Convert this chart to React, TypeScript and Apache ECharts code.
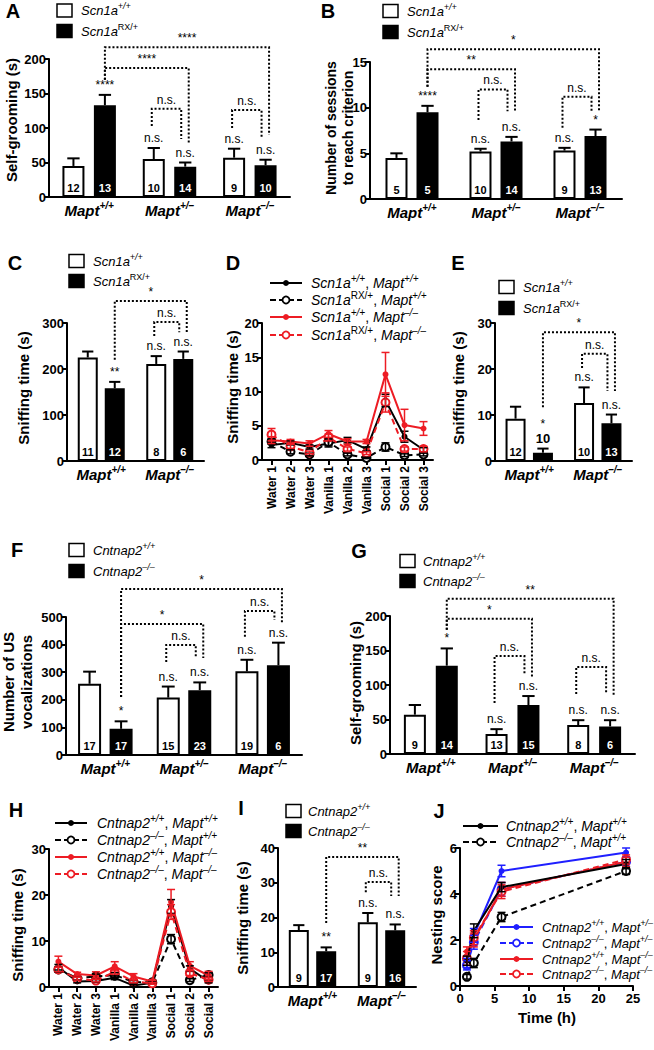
import React, { useEffect, useRef } from "react";
import * as echarts from "echarts";

const FONT = "'Liberation Sans', Arial, Helvetica, sans-serif";
const RED = "#ed1c24";
const BLUE = "#1f1fff";

// ---------------- categories ----------------
const MAPT3 = ["+/+", "+/–", "–/–"];
const MAPT2 = ["+/+", "–/–"];
const TRIALS = ["Water 1", "Water 2", "Water 3", "Vanilla 1", "Vanilla 2", "Vanilla 3", "Social 1", "Social 2", "Social 3"];
const J_TIMES = [1, 2, 6, 24];

// ---------------- A: self-grooming, Scn1a ----------------
const A_WT = [45, 55, 57];
const A_WT_ERR = [11, 16, 13];
const A_MUT = [133, 44, 46];
const A_MUT_ERR = [15, 6, 8];
const A_N_WT = [12, 10, 9];
const A_N_MUT = [13, 14, 10];
const A_SIG_WT = ["", "n.s.", "n.s."];
const A_SIG_MUT = ["****", "n.s.", "n.s."];
const A_BRACKETS = [
  { a: [0, 1], b: [2, 1], yA: 170, yTop: 217, yB: 90, label: "****" },
  { a: [0, 1], b: [1, 1], yA: 170, yTop: 187, yB: 78, label: "****" },
  { a: [1, 0], b: [1, 1], yA: 103, yTop: 128, yB: 84, label: "n.s." },
  { a: [2, 0], b: [2, 1], yA: 100, yTop: 126, yB: 87, label: "n.s." },
];

// ---------------- B: sessions to criterion ----------------
const B_WT = [4.5, 5.2, 5.3];
const B_WT_ERR = [0.5, 0.3, 0.3];
const B_MUT = [9.5, 6.3, 6.9];
const B_MUT_ERR = [0.7, 0.5, 0.7];
const B_N_WT = [5, 10, 9];
const B_N_MUT = [5, 14, 13];
const B_SIG_WT = ["", "n.s.", "n.s."];
const B_SIG_MUT = ["****", "n.s.", "*"];
const B_BRACKETS = [
  { a: [0, 1], b: [2, 1], yA: 12.3, yTop: 16.4, yB: 9.5, label: "*" },
  { a: [0, 1], b: [1, 1], yA: 12.3, yTop: 14.2, yB: 9.5, label: "**" },
  { a: [1, 0], b: [1, 1], yA: 8.65, yTop: 12.0, yB: 9.6, label: "n.s." },
  { a: [2, 0], b: [2, 1], yA: 7.8, yTop: 11.2, yB: 9.6, label: "n.s." },
];

// ---------------- C: sniffing time ----------------
const C_WT = [225, 211];
const C_WT_ERR = [13, 17];
const C_MUT = [158, 222];
const C_MUT_ERR = [14, 16];
const C_N_WT = [11, 8];
const C_N_MUT = [12, 6];
const C_SIG_WT = ["", "n.s."];
const C_SIG_MUT = ["**", "n.s."];
const C_BRACKETS = [
  { a: [0, 1], b: [1, 1], yA: 220, yTop: 348, yB: 280, label: "*" },
  { a: [1, 0], b: [1, 1], yA: 272, yTop: 302, yB: 280, label: "n.s." },
];

// ---------------- D: olfactory habituation, Scn1a ----------------
const D_WT_WT = [2.2, 2.5, 1.9, 2.4, 2.9, 1.6, 8.7, 3.4, 1.5];
const D_WT_WT_ERR = [0.4, 0.3, 0.3, 0.5, 0.4, 0.3, 0.9, 0.8, 0.3];
const D_RX_WT = [2.7, 1.2, 0.8, 2.6, 0.8, 0.3, 1.9, 0.7, 0.8];
const D_RX_WT_ERR = [0.4, 0.3, 0.2, 0.5, 0.2, 0.1, 0.6, 0.2, 0.2];
const D_WT_KO = [2.9, 2.7, 2.4, 3.8, 2.7, 2.7, 12.5, 5.1, 4.6];
const D_WT_KO_ERR = [0.5, 0.3, 0.4, 0.5, 0.4, 0.3, 3.2, 2.3, 1.0];
const D_RX_KO = [3.7, 2.0, 1.1, 3.3, 1.6, 1.0, 8.4, 1.6, 1.6];
const D_RX_KO_ERR = [0.9, 0.3, 0.2, 0.5, 0.3, 0.2, 1.4, 0.3, 0.4];

// ---------------- E: social sniffing ----------------
const E_WT = [9.2, 12.6];
const E_WT_ERR = [2.6, 3.4];
const E_MUT = [1.8, 8.2];
const E_MUT_ERR = [0.9, 1.9];
const E_N_WT = [12, 10];
const E_N_MUT = [10, 13];
const E_SIG_WT = ["", "n.s."];
const E_SIG_MUT = ["*", "n.s."];
const E_BRACKETS = [
  { a: [0, 1], b: [1, 1], yA: 11.7, yTop: 28, yB: 15.2, label: "*" },
  { a: [1, 0], b: [1, 1], yA: 20.2, yTop: 23.3, yB: 15.2, label: "n.s." },
];

// ---------------- F: US vocalizations, Cntnap2 ----------------
const F_WT = [258, 208, 303];
const F_WT_ERR = [44, 40, 42];
const F_MUT = [95, 235, 325];
const F_MUT_ERR = [27, 28, 82];
const F_N_WT = [17, 15, 19];
const F_N_MUT = [17, 23, 6];
const F_SIG_WT = ["", "n.s.", "n.s."];
const F_SIG_MUT = ["*", "n.s.", "n.s."];
const F_BRACKETS = [
  { a: [0, 1], b: [2, 1], yA: 210, yTop: 601, yB: 478, label: "*" },
  { a: [0, 1], b: [1, 1], yA: 210, yTop: 475, yB: 351, label: "*" },
  { a: [1, 0], b: [1, 1], yA: 337, yTop: 399, yB: 351, label: "n.s." },
  { a: [2, 0], b: [2, 1], yA: 428, yTop: 522, yB: 489, label: "n.s." },
];

// ---------------- G: self-grooming, Cntnap2 ----------------
const G_WT = [57, 29, 42];
const G_WT_ERR = [14, 7, 7];
const G_MUT = [128, 71, 40];
const G_MUT_ERR = [25, 13, 9];
const G_N_WT = [9, 13, 8];
const G_N_MUT = [14, 15, 6];
const G_SIG_WT = ["", "n.s.", "n.s."];
const G_SIG_MUT = ["*", "n.s.", "n.s."];
const G_BRACKETS = [
  { a: [0, 1], b: [2, 1], yA: 180, yTop: 225, yB: 84, label: "**" },
  { a: [0, 1], b: [1, 1], yA: 180, yTop: 196, yB: 110, label: "*" },
  { a: [1, 0], b: [1, 1], yA: 74, yTop: 142, yB: 117, label: "n.s." },
  { a: [2, 0], b: [2, 1], yA: 87, yTop: 126, yB: 88, label: "n.s." },
];

// ---------------- H: olfactory habituation, Cntnap2 ----------------
const H_WT_WT = [4.3, 1.2, 1.3, 2.0, 0.3, 0.9, 17.5, 4.0, 1.2];
const H_WT_WT_ERR = [0.6, 0.3, 0.3, 0.4, 0.2, 0.2, 1.5, 0.6, 0.3];
const H_KO_WT = [3.8, 1.9, 2.3, 2.6, 1.1, 1.0, 10.4, 1.5, 2.6];
const H_KO_WT_ERR = [0.6, 0.4, 0.5, 0.5, 0.3, 0.2, 1.0, 0.3, 0.5];
const H_WT_KO = [5.5, 2.8, 2.5, 4.5, 2.3, 1.2, 18.5, 4.6, 2.5];
const H_WT_KO_ERR = [1.2, 0.4, 0.8, 1.0, 0.6, 0.3, 2.7, 0.9, 0.9];
const H_KO_KO = [3.8, 1.8, 1.4, 3.3, 1.2, 0.8, 16.3, 3.0, 1.6];
const H_KO_KO_ERR = [0.5, 0.3, 0.3, 0.5, 0.3, 0.2, 1.6, 0.5, 0.4];

// ---------------- I: social sniffing, Cntnap2 ----------------
const I_WT = [16.4, 18.6];
const I_WT_ERR = [1.4, 2.7];
const I_MUT = [10.3, 16.3];
const I_MUT_ERR = [1.1, 1.7];
const I_N_WT = [9, 9];
const I_N_MUT = [17, 16];
const I_SIG_WT = ["", "n.s."];
const I_SIG_MUT = ["**", "n.s."];
const I_BRACKETS = [
  { a: [0, 1], b: [1, 1], yA: 18.4, yTop: 37.4, yB: 26.2, label: "**" },
  { a: [1, 0], b: [1, 1], yA: 27.3, yTop: 30.2, yB: 26.2, label: "n.s." },
];

// ---------------- J: nesting score ----------------
const J_WT_WT = [1.1, 2.4, 4.3, 5.3];
const J_WT_WT_ERR = [0.2, 0.3, 0.2, 0.2];
const J_KO_WT = [0.4, 1.0, 3.0, 5.0];
const J_KO_WT_ERR = [0.1, 0.2, 0.2, 0.15];
const J_WT_HET = [1.0, 2.2, 5.0, 5.8];
const J_WT_HET_ERR = [0.2, 0.3, 0.25, 0.2];
const J_KO_HET = [0.9, 1.9, 4.2, 5.4];
const J_KO_HET_ERR = [0.2, 0.3, 0.3, 0.2];
const J_WT_KO = [1.5, 2.0, 4.2, 5.4];
const J_WT_KO_ERR = [0.2, 0.3, 0.3, 0.2];
const J_KO_KO = [1.2, 2.1, 4.1, 5.5];
const J_KO_KO_ERR = [0.3, 0.3, 0.3, 0.2];

// ---------------- text helpers ----------------
const tok = (size: number, italic: boolean, sup: boolean, bold = false) => ({
  fontFamily: FONT,
  fontSize: size,
  fontStyle: italic ? "italic" : "normal",
  fontWeight: bold ? "bold" : "normal",
  fill: "#000",
  color: "#000",
  lineHeight: sup ? size : size + 5,
  verticalAlign: sup ? "top" : "middle",
});
const richSet = (size: number) => ({
  i: tok(size, true, false),
  s: tok(Math.round(size * 0.7), true, true),
  u: tok(Math.round(size * 0.7), false, true),
  n: tok(size, false, false),
});
const MAPT_RICH = { m: tok(15, true, false, true), t: tok(10, true, true, true) };

const SCN_WT = "{i|Scn1a}{s|+/+}";
const SCN_RX = "{i|Scn1a}{u|RX/+}";
const CNT_WT = "{i|Cntnap2}{s|+/+}";
const CNT_KO = "{i|Cntnap2}{s|–/–}";
const mapt = (g: string) => `{i|Mapt}{s|${g}}`;

function gText(x: number, y: number, text: string, style: any = {}, extra: any = {}) {
  return {
    type: "text",
    x,
    y,
    silent: true,
    z: 100,
    ...extra,
    style: { text, fontFamily: FONT, fontSize: 13, fill: "#000", align: "left", verticalAlign: "middle", ...style },
  };
}

function valueAxis(gi: number, max: number, interval: number, extra: any = {}) {
  return {
    type: "value",
    gridIndex: gi,
    min: 0,
    max,
    interval,
    axisLine: { show: true, onZero: false, lineStyle: { color: "#000", width: 2 } },
    axisTick: { show: true, inside: false, length: 5, lineStyle: { color: "#000", width: 2 } },
    axisLabel: { show: true, color: "#000", fontFamily: FONT, fontSize: 13, fontWeight: "bold", margin: 3 },
    splitLine: { show: false },
    ...extra,
  };
}

function cText(x: number, y: number, text: string, size: number, color = "#000", bold = false) {
  return {
    type: "text",
    x,
    y,
    style: {
      text,
      fontFamily: FONT,
      fontSize: size,
      fontWeight: bold ? "bold" : "normal",
      fill: color,
      align: "center",
      verticalAlign: "middle",
    },
  };
}

function addBarPanel(o: any, p: any) {
  const gi = o.grid.length;
  const [l, t, w, h] = p.rect;
  o.grid.push({ left: l, top: t, width: w, height: h });
  o.xAxis.push({
    type: "category",
    gridIndex: gi,
    data: p.cats,
    boundaryGap: true,
    axisLine: { show: true, onZero: false, lineStyle: { color: "#000", width: 2 } },
    axisTick: { show: false },
    splitLine: { show: false },
    axisLabel: {
      show: true,
      interval: 0,
      margin: 3,
      color: "#000",
      formatter: (v: string) => `{m|Mapt}{t|${v}}`,
      rich: MAPT_RICH,
    },
  });
  o.yAxis.push(valueAxis(gi, p.max, p.interval));
  const off = (p.bw * (1 + p.gap)) / 2;
  const barOff = (b: number) => (b === 0 ? -off : off);
  const common = {
    type: "bar",
    xAxisIndex: gi,
    yAxisIndex: gi,
    barWidth: p.bw,
    barGap: `${p.gap * 100}%`,
    silent: true,
    z: 2,
  };
  o.series.push({ ...common, name: `${p.id}-wt`, data: p.wt, itemStyle: { color: "#fff", borderColor: "#000", borderWidth: 2 } });
  o.series.push({ ...common, name: `${p.id}-mut`, data: p.mut, itemStyle: { color: "#000", borderColor: "#000", borderWidth: 2 } });

  const rows: number[][] = [];
  p.wt.forEach((v: number, i: number) => rows.push([i, v, p.wtErr[i], p.nWt[i], 0]));
  p.mut.forEach((v: number, i: number) => rows.push([i, v, p.mutErr[i], p.nMut[i], 1]));
  o.series.push({
    type: "custom",
    name: `${p.id}-err`,
    xAxisIndex: gi,
    yAxisIndex: gi,
    clip: false,
    silent: true,
    z: 4,
    encode: { x: 0, y: 1 },
    data: rows,
    renderItem: (_params: any, api: any) => {
      const i = api.value(0) as number;
      const v = api.value(1) as number;
      const e = api.value(2) as number;
      const n = api.value(3);
      const b = api.value(4) as number;
      const top = api.coord([i, v]);
      const et = api.coord([i, v + e]);
      const base = api.coord([i, 0]);
      const x = top[0] + barOff(b);
      const cap = p.bw * 0.28;
      const children: any[] = [
        { type: "line", shape: { x1: x, y1: top[1], x2: x, y2: et[1] }, style: { stroke: "#000", lineWidth: 2 } },
        { type: "line", shape: { x1: x - cap, y1: et[1], x2: x + cap, y2: et[1] }, style: { stroke: "#000", lineWidth: 2 } },
      ];
      let sigY = et[1] - 10;
      if (base[1] - top[1] > 16) {
        children.push(cText(x, base[1] - 9.5, String(n), 11, b === 0 ? "#000" : "#fff", true));
      } else {
        children.push(cText(x, et[1] - 10, String(n), 13, "#000", true));
        sigY = et[1] - 25;
      }
      const sig = (b === 0 ? p.sigWt : p.sigMut)[i];
      if (sig) children.push(cText(x, sigY, sig, 12));
      return { type: "group", children };
    },
  });

  o.series.push({
    type: "custom",
    name: `${p.id}-brackets`,
    xAxisIndex: gi,
    yAxisIndex: gi,
    clip: false,
    silent: true,
    z: 5,
    encode: { x: 0, y: 1 },
    data: p.brackets.map((_b: any, k: number) => [0, 0, k]),
    renderItem: (_params: any, api: any) => {
      const br = p.brackets[api.value(2) as number];
      const inner = br.a[0] === br.b[0];
      const xa = api.coord([br.a[0], 0])[0] + barOff(br.a[1]) + (inner ? -2 : 0);
      const xb = api.coord([br.b[0], 0])[0] + barOff(br.b[1]) + (inner ? -4 : 3.5);
      const ya = api.coord([br.a[0], br.yA])[1];
      const yt = api.coord([br.a[0], br.yTop])[1];
      const yb = api.coord([br.b[0], br.yB])[1];
      return {
        type: "group",
        children: [
          {
            type: "polyline",
            shape: { points: [[xa, ya], [xa, yt], [xb, yt], [xb, yb]] },
            style: { stroke: "#000", lineWidth: 2, lineDash: [2, 2], fill: null },
          },
          cText((xa + xb) / 2, yt - 9, br.label, 12),
        ],
      };
    },
  });
}

function errSeries(gi: number, data: number[][], color: string, cap: number) {
  return {
    type: "custom",
    xAxisIndex: gi,
    yAxisIndex: gi,
    clip: false,
    silent: true,
    z: 4,
    encode: { x: 0, y: 1 },
    data,
    renderItem: (_params: any, api: any) => {
      const x = api.value(0) as number;
      const v = api.value(1) as number;
      const e = api.value(2) as number;
      const lo = api.coord([x, v - e]);
      const hi = api.coord([x, v + e]);
      const st = { stroke: color, lineWidth: 1.5 };
      return {
        type: "group",
        children: [
          { type: "line", shape: { x1: lo[0], y1: lo[1], x2: hi[0], y2: hi[1] }, style: st },
          { type: "line", shape: { x1: hi[0] - cap, y1: hi[1], x2: hi[0] + cap, y2: hi[1] }, style: st },
          { type: "line", shape: { x1: lo[0] - cap, y1: lo[1], x2: lo[0] + cap, y2: lo[1] }, style: st },
        ],
      };
    },
  };
}

function lineSeries(gi: number, data: any[], color: string, dashed: boolean, z: number) {
  return {
    type: "line",
    xAxisIndex: gi,
    yAxisIndex: gi,
    data,
    silent: true,
    z,
    symbol: dashed ? "emptyCircle" : "circle",
    symbolSize: dashed ? 8 : 6,
    showSymbol: true,
    lineStyle: { color, width: 2, type: dashed ? [6, 4] : "solid" },
    itemStyle: { color, borderColor: color, borderWidth: dashed ? 2 : 0 },
  };
}

function addTrialPanel(o: any, p: any) {
  const gi = o.grid.length;
  const [l, t, w, h] = p.rect;
  o.grid.push({ left: l, top: t, width: w, height: h });
  o.xAxis.push({
    type: "category",
    gridIndex: gi,
    data: TRIALS,
    boundaryGap: true,
    axisLine: { show: true, onZero: false, lineStyle: { color: "#000", width: 2 } },
    axisTick: { show: true, alignWithLabel: true, length: 5, lineStyle: { color: "#000", width: 2 } },
    splitLine: { show: false },
    axisLabel: { show: true, interval: 0, rotate: 90, margin: 6, color: "#000", fontFamily: FONT, fontSize: 12, fontWeight: "bold" },
  });
  o.yAxis.push(valueAxis(gi, p.max, p.interval));
  p.lines.forEach((s: any, k: number) => {
    o.series.push(lineSeries(gi, s.vals, s.color, s.dashed, 3 + k * 0.01));
    o.series.push(errSeries(gi, s.vals.map((v: number, i: number) => [i, v, s.err[i]]), s.color, 4));
  });
}

function addTimePanel(o: any, p: any) {
  const gi = o.grid.length;
  const [l, t, w, h] = p.rect;
  o.grid.push({ left: l, top: t, width: w, height: h });
  o.xAxis.push({
    type: "value",
    gridIndex: gi,
    min: 0,
    max: 25,
    interval: 5,
    axisLine: { show: true, onZero: false, lineStyle: { color: "#000", width: 2 } },
    axisTick: { show: true, length: 5, lineStyle: { color: "#000", width: 2 } },
    splitLine: { show: false },
    axisLabel: { show: true, color: "#000", fontFamily: FONT, fontSize: 13, fontWeight: "bold", margin: 6 },
  });
  o.yAxis.push(valueAxis(gi, 6, 2));
  p.lines.forEach((s: any, k: number) => {
    const pts = J_TIMES.map((tm, i) => [tm, s.vals[i]]);
    o.series.push(lineSeries(gi, pts, s.color, s.dashed, 3 + k * 0.01));
    o.series.push(errSeries(gi, J_TIMES.map((tm, i) => [tm, s.vals[i], s.err[i]]), s.color, 4));
  });
}

// ---------------- legends & labels (graphic) ----------------
function boxLegend(g: any[], x: number, ys: number[], labels: string[], tx: number) {
  ys.forEach((y, k) => {
    g.push({
      type: "rect",
      silent: true,
      z: 100,
      shape: { x, y: y - 6.5, width: 15, height: 13 },
      style: { fill: k === 0 ? "#fff" : "#000", stroke: "#000", lineWidth: 1.5 },
    });
    g.push(gText(tx, y, labels[k], { rich: richSet(13) }));
  });
}

function lineLegend(g: any[], x1: number, x2: number, tx: number, ys: number[], items: any[], size: number) {
  ys.forEach((y, k) => {
    const it = items[k];
    g.push({
      type: "line",
      silent: true,
      z: 100,
      shape: { x1, y1: y, x2, y2: y },
      style: { stroke: it.color, lineWidth: 2, lineDash: it.dashed ? [6, 3] : null },
    });
    g.push({
      type: "circle",
      silent: true,
      z: 101,
      shape: { cx: (x1 + x2) / 2, cy: y, r: it.dashed ? 3.5 : 3 },
      style: it.dashed ? { fill: "#fff", stroke: it.color, lineWidth: 1.8 } : { fill: it.color, stroke: it.color, lineWidth: 0 },
    });
    g.push(gText(tx, y, it.label, { rich: richSet(size) }));
  });
}

function yName(g: any[], x: number, y: number, text: string, size = 15) {
  g.push(
    gText(x, y, text, { fontSize: size, fontWeight: "bold", align: "center", verticalAlign: "middle", lineHeight: size + 3 }, { rotation: Math.PI / 2 })
  );
}

function letter(g: any[], x: number, y: number, text: string) {
  g.push(gText(x, y, text, { fontSize: 20, fontWeight: "bold", align: "center", verticalAlign: "middle" }));
}

function buildOption() {
  const o: any = { animation: false, backgroundColor: "#ffffff", grid: [], xAxis: [], yAxis: [], series: [] };
  const g: any[] = [];

  addBarPanel(o, {
    id: "A", rect: [49, 59, 241, 138], cats: MAPT3, max: 200, interval: 50, bw: 22, gap: 0.43,
    wt: A_WT, wtErr: A_WT_ERR, mut: A_MUT, mutErr: A_MUT_ERR, nWt: A_N_WT, nMut: A_N_MUT,
    sigWt: A_SIG_WT, sigMut: A_SIG_MUT, brackets: A_BRACKETS,
  });
  addBarPanel(o, {
    id: "B", rect: [370, 62, 252, 137], cats: MAPT3, max: 15, interval: 5, bw: 22, gap: 0.41,
    wt: B_WT, wtErr: B_WT_ERR, mut: B_MUT, mutErr: B_MUT_ERR, nWt: B_N_WT, nMut: B_N_MUT,
    sigWt: B_SIG_WT, sigMut: B_SIG_MUT, brackets: B_BRACKETS,
  });
  addBarPanel(o, {
    id: "C", rect: [67, 323, 137, 138], cats: MAPT2, max: 300, interval: 100, bw: 20, gap: 0.35,
    wt: C_WT, wtErr: C_WT_ERR, mut: C_MUT, mutErr: C_MUT_ERR, nWt: C_N_WT, nMut: C_N_MUT,
    sigWt: C_SIG_WT, sigMut: C_SIG_MUT, brackets: C_BRACKETS,
  });
  addTrialPanel(o, {
    rect: [262, 323, 171, 137], max: 20, interval: 5,
    lines: [
      { vals: D_WT_WT, err: D_WT_WT_ERR, color: "#000", dashed: false },
      { vals: D_RX_WT, err: D_RX_WT_ERR, color: "#000", dashed: true },
      { vals: D_WT_KO, err: D_WT_KO_ERR, color: RED, dashed: false },
      { vals: D_RX_KO, err: D_RX_KO_ERR, color: RED, dashed: true },
    ],
  });
  addBarPanel(o, {
    id: "E", rect: [495, 323, 137, 138], cats: MAPT2, max: 30, interval: 10, bw: 20, gap: 0.37,
    wt: E_WT, wtErr: E_WT_ERR, mut: E_MUT, mutErr: E_MUT_ERR, nWt: E_N_WT, nMut: E_N_MUT,
    sigWt: E_SIG_WT, sigMut: E_SIG_MUT, brackets: E_BRACKETS,
  });
  addBarPanel(o, {
    id: "F", rect: [66, 617, 236, 138], cats: MAPT3, max: 500, interval: 100, bw: 23, gap: 0.37,
    wt: F_WT, wtErr: F_WT_ERR, mut: F_MUT, mutErr: F_MUT_ERR, nWt: F_N_WT, nMut: F_N_MUT,
    sigWt: F_SIG_WT, sigMut: F_SIG_MUT, brackets: F_BRACKETS,
  });
  addBarPanel(o, {
    id: "G", rect: [390, 616, 245, 138], cats: MAPT3, max: 200, interval: 50, bw: 22, gap: 0.45,
    wt: G_WT, wtErr: G_WT_ERR, mut: G_MUT, mutErr: G_MUT_ERR, nWt: G_N_WT, nMut: G_N_MUT,
    sigWt: G_SIG_WT, sigMut: G_SIG_MUT, brackets: G_BRACKETS,
  });
  addTrialPanel(o, {
    rect: [49, 849, 169, 138], max: 30, interval: 10,
    lines: [
      { vals: H_WT_WT, err: H_WT_WT_ERR, color: "#000", dashed: false },
      { vals: H_KO_WT, err: H_KO_WT_ERR, color: "#000", dashed: true },
      { vals: H_WT_KO, err: H_WT_KO_ERR, color: RED, dashed: false },
      { vals: H_KO_KO, err: H_KO_KO_ERR, color: RED, dashed: true },
    ],
  });
  addBarPanel(o, {
    id: "I", rect: [278, 848, 138, 139], cats: MAPT2, max: 40, interval: 10, bw: 20, gap: 0.37,
    wt: I_WT, wtErr: I_WT_ERR, mut: I_MUT, mutErr: I_MUT_ERR, nWt: I_N_WT, nMut: I_N_MUT,
    sigWt: I_SIG_WT, sigMut: I_SIG_MUT, brackets: I_BRACKETS,
  });
  addTimePanel(o, {
    rect: [460, 848, 173, 138],
    lines: [
      { vals: J_WT_HET, err: J_WT_HET_ERR, color: BLUE, dashed: false },
      { vals: J_KO_HET, err: J_KO_HET_ERR, color: BLUE, dashed: true },
      { vals: J_WT_KO, err: J_WT_KO_ERR, color: RED, dashed: false },
      { vals: J_KO_KO, err: J_KO_KO_ERR, color: RED, dashed: true },
      { vals: J_WT_WT, err: J_WT_WT_ERR, color: "#000", dashed: false },
      { vals: J_KO_WT, err: J_KO_WT_ERR, color: "#000", dashed: true },
    ],
  });

  // panel letters
  letter(g, 13, 11, "A");
  letter(g, 328, 11, "B");
  letter(g, 15, 263, "C");
  letter(g, 233, 263, "D");
  letter(g, 458, 263, "E");
  letter(g, 17, 550, "F");
  letter(g, 359, 551, "G");
  letter(g, 16, 810, "H");
  letter(g, 241, 808, "I");
  letter(g, 439, 811, "J");

  // bar legends
  boxLegend(g, 57, [10.5, 31], [SCN_WT, SCN_RX], 81);
  boxLegend(g, 383, [11, 32], [SCN_WT, SCN_RX], 407);
  boxLegend(g, 69, [261, 281], [SCN_WT, SCN_RX], 93);
  boxLegend(g, 499, [287, 308], [SCN_WT, SCN_RX], 523);
  boxLegend(g, 69, [550, 571], [CNT_WT, CNT_KO], 93);
  boxLegend(g, 400, [561, 581], [CNT_WT, CNT_KO], 423);
  boxLegend(g, 286, [811, 831], [CNT_WT, CNT_KO], 308);

  // line legends
  lineLegend(g, 270, 302, 311, [283, 300, 317, 335], [
    { color: "#000", dashed: false, label: `${SCN_WT}{n|, }${mapt("+/+")}` },
    { color: "#000", dashed: true, label: `${SCN_RX}{n|, }${mapt("+/+")}` },
    { color: RED, dashed: false, label: `${SCN_WT}{n|, }${mapt("–/–")}` },
    { color: RED, dashed: true, label: `${SCN_RX}{n|, }${mapt("–/–")}` },
  ], 14);
  lineLegend(g, 55, 87, 97, [823, 840, 857, 874], [
    { color: "#000", dashed: false, label: `${CNT_WT}{n|, }${mapt("+/+")}` },
    { color: "#000", dashed: true, label: `${CNT_KO}{n|, }${mapt("+/+")}` },
    { color: RED, dashed: false, label: `${CNT_WT}{n|, }${mapt("–/–")}` },
    { color: RED, dashed: true, label: `${CNT_KO}{n|, }${mapt("–/–")}` },
  ], 14);
  lineLegend(g, 463, 498, 506, [826, 842], [
    { color: "#000", dashed: false, label: `${CNT_WT}{n|, }${mapt("+/+")}` },
    { color: "#000", dashed: true, label: `${CNT_KO}{n|, }${mapt("+/+")}` },
  ], 14);
  lineLegend(g, 500, 533, 542, [927, 943, 959, 974], [
    { color: BLUE, dashed: false, label: `${CNT_WT}{n|, }${mapt("+/–")}` },
    { color: BLUE, dashed: true, label: `${CNT_KO}{n|, }${mapt("+/–")}` },
    { color: RED, dashed: false, label: `${CNT_WT}{n|, }${mapt("–/–")}` },
    { color: RED, dashed: true, label: `${CNT_KO}{n|, }${mapt("–/–")}` },
  ], 13);

  // axis names
  yName(g, 11, 120, "Self-grooming (s)");
  yName(g, 339, 128, "Number of sessions\nto reach criterion", 14);
  yName(g, 23, 388, "Sniffing time (s)");
  yName(g, 232, 387, "Sniffing time (s)");
  yName(g, 458, 388, "Sniffing time (s)");
  yName(g, 17, 682, "Number of US\nvocalizations", 15);
  yName(g, 355, 683, "Self-grooming (s)");
  yName(g, 17, 925, "Sniffing time (s)");
  yName(g, 242, 918, "Sniffing time (s)");
  yName(g, 436, 915, "Nesting score");
  g.push(gText(547, 1017, "Time (h)", { fontSize: 15, fontWeight: "bold", align: "center" }));

  o.graphic = { elements: g };
  return o;
}

export default function App() {
  const ref = useRef<HTMLDivElement>(null);
  useEffect(() => {
    const el = ref.current;
    if (!el) return;
    const chart = echarts.init(el, undefined, { renderer: "svg" });
    chart.setOption(buildOption());
    return () => chart.dispose();
  }, []);
  return (
    <div
      ref={ref}
      style={{ position: "absolute", left: 0, top: 0, width: 654, height: 1050, background: "#ffffff" }}
    />
  );
}
